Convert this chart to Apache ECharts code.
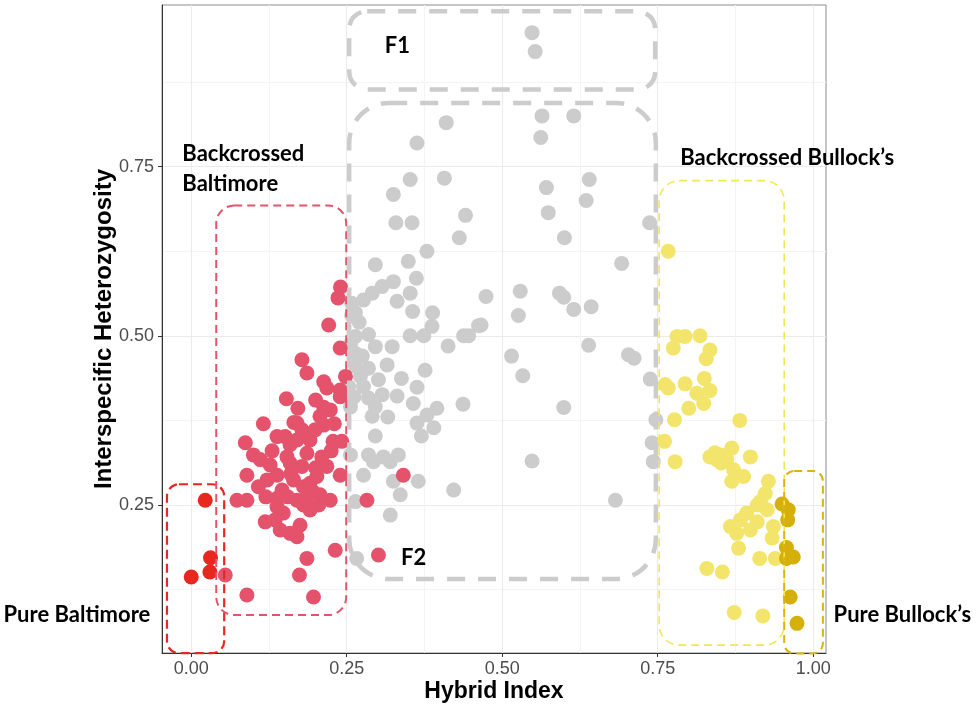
<!DOCTYPE html>
<html><head><meta charset="utf-8">
<script src="https://cdn.jsdelivr.net/npm/echarts@6/dist/echarts.min.js"></script>
<style>html,body{margin:0;padding:0;background:#fff}#c{width:977px;height:706px}</style>
</head><body><div id="c"></div>
<script>
// ---- tick values ----
const xMajorTicks = [0, 0.25, 0.5, 0.75, 1];
const xMinorTicks = [0.125, 0.375, 0.625, 0.875];
const yMajorTicks = [0.25, 0.5, 0.75];
const yMinorTicks = [0.125, 0.375, 0.625, 0.875];

// ---- series values: [hybrid index, interspecific heterozygosity] ----
const pureBaltimore = [[0.0225,0.257],[0.031,0.172],[0.030,0.151],[0.0,0.1435]];

const backcrossedBaltimore = [
[0.240,0.572],[0.236,0.556],[0.221,0.516],[0.2395,0.482],[0.178,0.4645],
[0.186,0.445],[0.213,0.432],[0.218,0.423],[0.2395,0.420],[0.248,0.440],
[0.153,0.407],[0.1715,0.393],[0.213,0.3945],[0.207,0.381],[0.116,0.370],
[0.170,0.371],[0.213,0.368],[0.178,0.361],[0.138,0.351],[0.151,0.351],
[0.087,0.342],[0.170,0.346],[0.228,0.344],[0.242,0.344],[0.100,0.324],
[0.111,0.317],[0.154,0.321],[0.186,0.3265],[0.210,0.321],[0.218,0.307],
[0.178,0.307],[0.159,0.312],[0.0895,0.294],[0.138,0.294],[0.1645,0.287],
[0.202,0.292],[0.2395,0.294],[0.122,0.287],[0.108,0.277],[0.146,0.272],
[0.1805,0.277],[0.191,0.282],[0.0735,0.257],[0.0895,0.257],[0.138,0.260],
[0.170,0.257],[0.186,0.262],[0.207,0.265],[0.205,0.250],[0.1805,0.250],
[0.138,0.2475],[0.148,0.238],[0.119,0.225],[0.143,0.213],[0.175,0.220],
[0.170,0.203],[0.159,0.208],[0.2825,0.257],[0.341,0.294],[0.2315,0.183],
[0.186,0.171],[0.301,0.176],[0.174,0.1465],[0.0547,0.1465],[0.0895,0.117],
[0.1966,0.114],[0.191,0.346],[0.199,0.361],[0.2235,0.3905],[0.159,0.339],
[0.127,0.309],[0.2235,0.257],[0.191,0.2426],[0.135,0.228],[0.2395,0.410],
[0.130,0.330],[0.160,0.296],[0.200,0.305],[0.120,0.262],[0.155,0.262],
[0.195,0.270],[0.225,0.330],[0.165,0.372],[0.200,0.405],[0.230,0.370]
];

const f1 = [[0.548,0.948],[0.553,0.920]];

const f2 = [
[0.410,0.815],[0.363,0.785],[0.564,0.825],[0.615,0.825],[0.562,0.793],
[0.352,0.731],[0.407,0.733],[0.571,0.719],[0.640,0.731],[0.325,0.709],
[0.635,0.700],[0.574,0.682],[0.441,0.678],[0.329,0.667],[0.355,0.667],
[0.737,0.667],[0.431,0.645],[0.600,0.645],[0.379,0.625],[0.349,0.610],
[0.296,0.605],[0.692,0.607],[0.362,0.585],[0.325,0.580],[0.307,0.573],
[0.352,0.563],[0.291,0.563],[0.277,0.553],[0.474,0.558],[0.529,0.566],
[0.331,0.551],[0.592,0.563],[0.599,0.557],[0.615,0.539],[0.643,0.543],
[0.526,0.530],[0.466,0.516],[0.264,0.534],[0.356,0.536],[0.388,0.534],
[0.387,0.514],[0.352,0.500],[0.374,0.500],[0.462,0.515],[0.438,0.500],
[0.446,0.500],[0.413,0.485],[0.323,0.484],[0.296,0.484],[0.264,0.499],
[0.285,0.502],[0.515,0.470],[0.639,0.486],[0.533,0.441],[0.703,0.472],
[0.712,0.467],[0.738,0.436],[0.315,0.457],[0.376,0.449],[0.285,0.452],
[0.264,0.455],[0.264,0.474],[0.338,0.437],[0.301,0.435],[0.363,0.424],
[0.253,0.425],[0.277,0.425],[0.331,0.411],[0.307,0.413],[0.285,0.408],
[0.357,0.400],[0.296,0.395],[0.395,0.393],[0.437,0.399],[0.379,0.383],
[0.291,0.381],[0.316,0.380],[0.363,0.371],[0.390,0.364],[0.370,0.352],
[0.296,0.352],[0.256,0.324],[0.285,0.324],[0.309,0.321],[0.333,0.324],
[0.293,0.314],[0.320,0.314],[0.277,0.294],[0.325,0.285],[0.365,0.285],
[0.336,0.265],[0.422,0.272],[0.264,0.255],[0.320,0.235],[0.266,0.171],
[0.599,0.394],[0.548,0.315],[0.682,0.257],[0.747,0.376],[0.741,0.342],
[0.743,0.314],[0.258,0.548],[0.258,0.530],[0.256,0.487],[0.256,0.395],
[0.262,0.410],[0.270,0.520],[0.275,0.470],[0.272,0.440]
];

const backcrossedBullocks = [
[0.767,0.625],[0.781,0.499],[0.794,0.499],[0.818,0.500],[0.775,0.482],
[0.834,0.479],[0.828,0.466],[0.762,0.428],[0.767,0.423],[0.794,0.429],
[0.825,0.437],[0.834,0.419],[0.813,0.415],[0.824,0.400],[0.800,0.393],
[0.777,0.376],[0.882,0.375],[0.761,0.344],[0.778,0.314],[0.834,0.321],
[0.845,0.317],[0.869,0.334],[0.861,0.317],[0.899,0.321],[0.872,0.302],
[0.888,0.292],[0.869,0.285],[0.928,0.285],[0.923,0.267],[0.915,0.255],
[0.893,0.238],[0.926,0.243],[0.883,0.228],[0.910,0.225],[0.867,0.218],
[0.877,0.208],[0.936,0.218],[0.934,0.201],[0.880,0.186],[0.914,0.171],
[0.939,0.171],[0.829,0.156],[0.854,0.151],[0.873,0.091],[0.919,0.086],
[0.851,0.324],[0.910,0.250],[0.899,0.213],[0.842,0.327],[0.852,0.312]
];

const pureBullocks = [[0.950,0.2515],[0.960,0.243],[0.959,0.228],[0.957,0.187],[0.968,0.173],[0.957,0.171],[0.963,0.114],[0.974,0.075]];

// ---- annotation boxes: [xMin, yMin, xMax, yMax] ----
const boxCorners = [
[-0.039,0.031,0.053,0.2806],
[0.0402,0.0873,0.2492,0.6927],
[0.254,0.8639,0.746,0.9797],
[0.254,0.1405,0.747,0.8442],
[0.7524,0.0429,0.9534,0.7293],
[0.9534,0.0306,1.0156,0.3003]
];

// ---- annotation labels ----
const labelTexts = ['Backcrossed\nBaltimore','F1','F2','Backcrossed Bullock\u2019s','Pure Baltimore','Pure Bullock\u2019s'];
const labelPos = [[-0.0143,0.7473],[0.3314,0.9279],[0.3576,0.1723],[0.7863,0.7635],[-0.3018,0.0878],[1.0328,0.0878]];

// ---- styles ----
const boxStyles = [
 {stroke:'#e8281f', lineWidth:2.2, lineDash:[9,5], r:12},
 {stroke:'#e4526b', lineWidth:2, lineDash:[8,5], r:18},
 {stroke:'#cccccc', lineWidth:4.5, lineDash:[18,13], r:18},
 {stroke:'#cccccc', lineWidth:4.5, lineDash:[18,13], r:40},
 {stroke:'#f4e650', lineWidth:1.6, lineDash:[8,5], r:20},
 {stroke:'#d9b40c', lineWidth:2, lineDash:[8,5], r:10}
];
const labelAlign = ['left','center','center','left','left','left'];

const X_MIN = -0.047, X_MAX = 1.0206, Y_MIN = 0.0312, Y_MAX = 0.9889;
const AX_FONT = '"Liberation Sans", Arial, sans-serif';
const fmt = v => Number(v).toFixed(2);

function pts(name, data, color){
  return {name, type:'scatter', data, xAxisIndex:0, yAxisIndex:0, symbolSize:15,
    itemStyle:{color, opacity:1}, emphasis:{disabled:true}, z:3};
}

const chart = echarts.init(document.getElementById('c'), null, {renderer:'canvas'});
chart.setOption({
  animation:false,
  backgroundColor:'#ffffff',
  grid:{left:162, right:151, top:5, bottom:53, show:true, borderColor:'#8c8c8c', borderWidth:1, containLabel:false, outerBoundsMode:'none'},
  xAxis:[{
    type:'value', min:X_MIN, max:X_MAX, position:'bottom',
    name:'Hybrid Index', nameLocation:'middle', nameGap:27, nameMoveOverlap:false,
    nameTextStyle:{fontFamily:AX_FONT, fontWeight:'bold', fontSize:23, color:'#000'},
    axisLine:{show:true, onZero:false, lineStyle:{color:'#333333', width:1}},
    axisTick:{show:true, customValues:xMajorTicks, length:4, lineStyle:{color:'#333333'}},
    axisLabel:{customValues:xMajorTicks, formatter:fmt, color:'#4d4d4d', fontSize:18, fontFamily:AX_FONT, margin:7, showMinLabel:true, showMaxLabel:true},
    splitLine:{show:true, lineStyle:{color:'#ebebeb', width:1.1}}
  },{
    type:'value', min:X_MIN, max:X_MAX, position:'top',
    axisLine:{show:false}, axisLabel:{show:false},
    axisTick:{show:false, customValues:xMinorTicks},
    splitLine:{show:true, lineStyle:{color:'#f4f4f4', width:1}}
  }],
  yAxis:[{
    type:'value', min:Y_MIN, max:Y_MAX, position:'left',
    name:'Interspecific Heterozygosity', nameLocation:'middle', nameGap:46, nameRotate:90, nameMoveOverlap:false,
    nameTextStyle:{fontFamily:AX_FONT, fontWeight:'bold', fontSize:24, color:'#000'},
    axisLine:{show:true, onZero:false, lineStyle:{color:'#333333', width:1}},
    axisTick:{show:true, customValues:yMajorTicks, length:4, lineStyle:{color:'#333333'}},
    axisLabel:{customValues:yMajorTicks, formatter:fmt, color:'#4d4d4d', fontSize:18, fontFamily:AX_FONT, margin:8},
    splitLine:{show:true, lineStyle:{color:'#ebebeb', width:1.1}}
  },{
    type:'value', min:Y_MIN, max:Y_MAX, position:'right',
    axisLine:{show:false}, axisLabel:{show:false},
    axisTick:{show:false, customValues:yMinorTicks},
    splitLine:{show:true, lineStyle:{color:'#f4f4f4', width:1}}
  }],
  series:[
    pts('F2', f2, '#cccccc'),
    pts('F1', f1, '#cccccc'),
    pts('Backcrossed Baltimore', backcrossedBaltimore, '#e4526b'),
    pts('Pure Baltimore', pureBaltimore, '#e8281f'),
    pts('Backcrossed Bullock\u2019s', backcrossedBullocks, '#f3e46c'),
    pts('Pure Bullock\u2019s', pureBullocks, '#d6b00a'),
    {
      type:'custom', name:'boxes', xAxisIndex:0, yAxisIndex:0, clip:false, z:5, silent:true,
      data:boxCorners, encode:{x:[0,2], y:[1,3]},
      renderItem:function(params, api){
        const s = boxStyles[params.dataIndex];
        const p0 = api.coord([api.value(0), api.value(3)]);
        const p1 = api.coord([api.value(2), api.value(1)]);
        return {type:'rect', shape:{x:p0[0], y:p0[1], width:p1[0]-p0[0], height:p1[1]-p0[1], r:s.r},
          style:{fill:'none', stroke:s.stroke, lineWidth:s.lineWidth, lineDash:s.lineDash}};
      }
    },
    {
      type:'custom', name:'labels', xAxisIndex:0, yAxisIndex:0, clip:false, z:6, silent:true,
      data:labelPos.map((p,i)=>[p[0],p[1],i]), encode:{x:0, y:1},
      renderItem:function(params, api){
        const i = params.dataIndex;
        const p = api.coord([api.value(0), api.value(1)]);
        return {type:'text', x:p[0], y:p[1],
          style:{text:labelTexts[i], fill:'#000000', font:'bold 22px Lato', align:labelAlign[i], verticalAlign:'middle', lineHeight:30}};
      }
    }
  ]
});
</script>
</body></html>
